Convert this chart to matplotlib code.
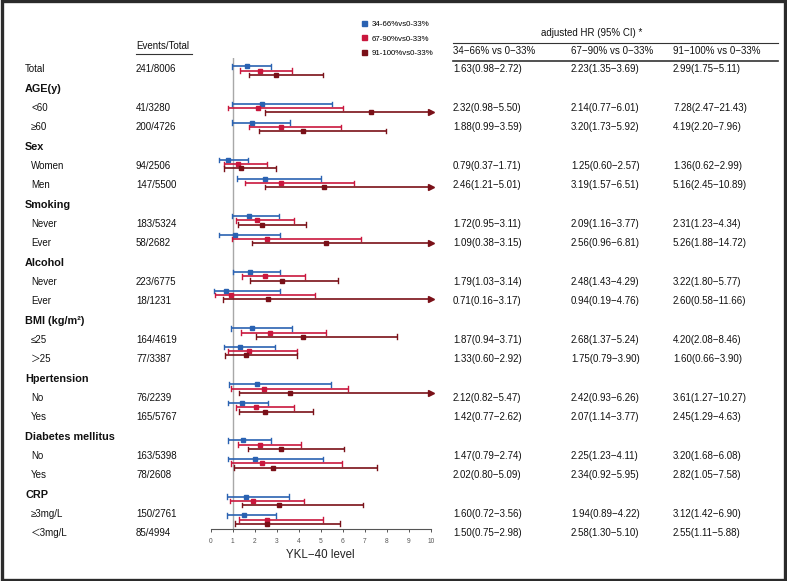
import matplotlib
matplotlib.use("Agg")
import matplotlib.pyplot as plt
from matplotlib.lines import Line2D
from matplotlib.patches import Patch, Rectangle
import numpy as np

plt.rcParams['font.family'] = ['Liberation Sans', 'Noto Sans CJK SC', 'DejaVu Sans']

# ---- data ----
labels = ["Total", "AGE(y)", "<60", "≥60", "Sex", "Women", "Men",
          "Smoking", "Never", "Ever", "Alcohol", "Never", "Ever",
          "BMI (kg/m²)", "≤25", "＞25", "Hpertension", "No", "Yes",
          "Diabetes mellitus", "No", "Yes", "CRP", "≥3mg/L", "＜3mg/L"]
is_header = [False, True, False, False, True, False, False,
             True, False, False, True, False, False,
             True, False, False, True, False, False,
             True, False, False, True, False, False]
events = ["241/8006", "", "41/3280", "200/4726", "", "94/2506", "147/5500",
          "", "183/5324", "58/2682", "", "223/6775", "18/1231",
          "", "164/4619", "77/3387", "", "76/2239", "165/5767",
          "", "163/5398", "78/2608", "", "150/2761", "85/4994"]

# HR, lower, upper for each comparison (None for header rows)
hr_34 = [(1.63, 0.98, 2.72), None, (2.32, 0.98, 5.50), (1.88, 0.99, 3.59), None,
         (0.79, 0.37, 1.71), (2.46, 1.21, 5.01), None, (1.72, 0.95, 3.11),
         (1.09, 0.38, 3.15), None, (1.79, 1.03, 3.14), (0.71, 0.16, 3.17), None,
         (1.87, 0.94, 3.71), (1.33, 0.60, 2.92), None, (2.12, 0.82, 5.47),
         (1.42, 0.77, 2.62), None, (1.47, 0.79, 2.74), (2.02, 0.80, 5.09), None,
         (1.60, 0.72, 3.56), (1.50, 0.75, 2.98)]
hr_67 = [(2.23, 1.35, 3.69), None, (2.14, 0.77, 6.01), (3.20, 1.73, 5.92), None,
         (1.25, 0.60, 2.57), (3.19, 1.57, 6.51), None, (2.09, 1.16, 3.77),
         (2.56, 0.96, 6.81), None, (2.48, 1.43, 4.29), (0.94, 0.19, 4.76), None,
         (2.68, 1.37, 5.24), (1.75, 0.79, 3.90), None, (2.42, 0.93, 6.26),
         (2.07, 1.14, 3.77), None, (2.25, 1.23, 4.11), (2.34, 0.92, 5.95), None,
         (1.94, 0.89, 4.22), (2.58, 1.30, 5.10)]
hr_91 = [(2.99, 1.75, 5.11), None, (7.28, 2.47, 21.43), (4.19, 2.20, 7.96), None,
         (1.36, 0.62, 2.99), (5.16, 2.45, 10.89), None, (2.31, 1.23, 4.34),
         (5.26, 1.88, 14.72), None, (3.22, 1.80, 5.77), (2.60, 0.58, 11.66), None,
         (4.20, 2.08, 8.46), (1.60, 0.66, 3.90), None, (3.61, 1.27, 10.27),
         (2.45, 1.29, 4.63), None, (3.20, 1.68, 6.08), (2.82, 1.05, 7.58), None,
         (3.12, 1.42, 6.90), (2.55, 1.11, 5.88)]

series = [hr_34, hr_67, hr_91]
series_names = ["34-66%vs0-33%", "67-90%vs0-33%", "91-100%vs0-33%"]
col_heads = ["34−66% vs 0−33%", "67−90% vs 0−33%", "91−100% vs 0−33%"]
colors = ["#2a62b2", "#c9173d", "#7a1018"]

# ---- layout (pixels) ----
W, H = 787, 581
fig = plt.figure(figsize=(W / 100, H / 100), dpi=100)

def fpx(x, y):
    return x / W, 1 - y / H

# forest part
row0, step = 70.7, 18.7
ax_top, ax_bot = 58, 528.5
x0px, x10px = 210.7, 430.7
ax = fig.add_axes([x0px / W, 1 - ax_bot / H, (x10px - x0px) / W, (ax_bot - ax_top) / H])
ax.set_xlim(0, 10)
ax.set_ylim((ax_bot - row0) / step, (ax_top - row0) / step)

offsets = [-0.225, 0.0, 0.225]
ax.axvline(1, color="#a8a8a8", lw=1.0, zorder=0)
for s, col, off in zip(series, colors, offsets):
    for i, v in enumerate(s):
        if v is None:
            continue
        hr, lo, hi = v
        y = i + off
        up = min(hi, 10)
        ax.plot([lo, up], [y, y], color=col, lw=1.2, solid_capstyle='butt', clip_on=False)
        ax.plot([lo, lo], [y - 0.12, y + 0.12], color=col, lw=1.0, clip_on=False)
        if hi > 10:
            ax.plot([10], [y], marker='>', color=col, ms=3.8, clip_on=False)
        else:
            ax.plot([hi, hi], [y - 0.12, y + 0.12], color=col, lw=1.0, clip_on=False)
        ax.plot([hr], [y], marker='s', color=col, ms=3.0, clip_on=False)

for sp in ["top", "right", "left"]:
    ax.spines[sp].set_visible(False)
ax.spines["bottom"].set_color("#555555")
ax.spines["bottom"].set_linewidth(0.8)
ax.set_yticks([])
ax.set_xticks(np.arange(0, 11, 1))
ax.tick_params(axis='x', length=2.5, width=0.7, colors="#555555", labelsize=4.8, pad=4.5)
ax.set_xlabel("YKL−40 level", fontsize=8.3, color="#222222", labelpad=3)

# table rows (spacing of the table differs slightly from the plot)
trow0, tstep = 69.3, 19.33

for i, (lab, hd, ev) in enumerate(zip(labels, is_header, events)):
    ty = trow0 + tstep * i
    if hd:
        fig.text(*fpx(25, ty), lab, fontsize=7.8, fontweight='bold',
                 va='center', ha='left', color="#111111")
    else:
        xl = 25 if i == 0 else 31
        fig.text(*fpx(xl, ty), lab, fontsize=7, va='center', ha='left', color="#111111")
    if ev:
        fig.text(*fpx(136, ty), ev, fontsize=7, va='center', ha='left', color="#111111")

col_x = [453, 571, 673]
for s, cx in zip(series, col_x):
    for i, v in enumerate(s):
        if v is None:
            continue
        hr, lo, hi = v
        fig.text(*fpx(cx, trow0 + tstep * i), f"{hr:.2f}({lo:.2f}−{hi:.2f})", fontsize=7,
                 va='center', ha='left', color="#111111")

fig.text(*fpx(592, 33), "adjusted HR (95% CI) *", fontsize=7, ha='center', va='center', color="#111111")
for cx, t in zip(col_x, col_heads):
    fig.text(*fpx(cx, 51.5), t, fontsize=7, ha='left', va='center', color="#111111")
fig.add_artist(Line2D([453 / W, 778 / W], [1 - 42.5 / H] * 2, color="#333333", lw=0.8))
fig.add_artist(Line2D([453 / W, 778 / W], [1 - 60.5 / H] * 2, color="#333333", lw=1.2))

fig.text(*fpx(136, 46), "Events/Total", fontsize=7, ha='left', va='center', color="#111111")
fig.add_artist(Line2D([136 / W, 192 / W], [1 - 54 / H] * 2, color="#333333", lw=0.8))

# ---- legend ----
handles = [Patch(facecolor=c, edgecolor=c) for c in colors]
fig.legend(handles, series_names, loc='upper left', bbox_to_anchor=fpx(362, 20.5),
           frameon=False, fontsize=5.7, handlelength=0.6, handleheight=0.6,
           handletextpad=0.6, labelspacing=0.95, borderpad=0, borderaxespad=0)

# ---- frame ----
fig.add_artist(Rectangle((0.002, 0.002), 0.996, 0.996, transform=fig.transFigure,
                         fill=False, edgecolor="#2b2b2b", lw=2.4))

fig.savefig("out.png", dpi=100)
